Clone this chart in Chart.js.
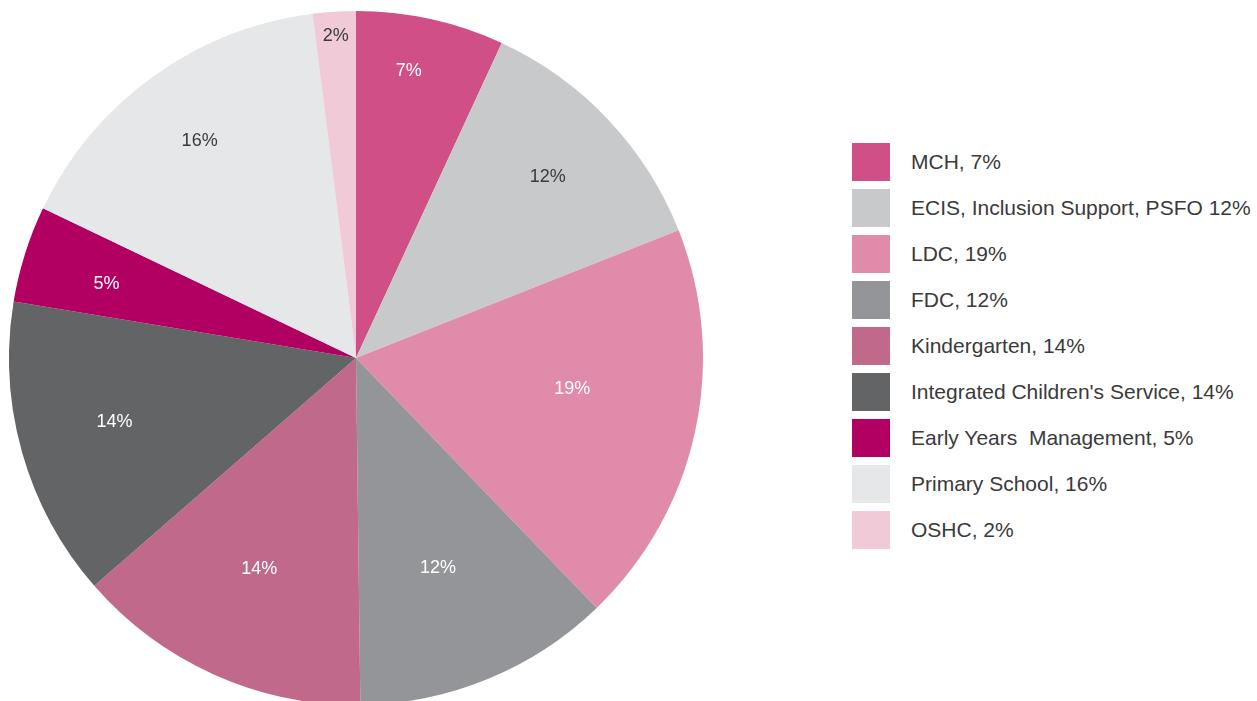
<!DOCTYPE html>
<html>
<head>
<meta charset="utf-8">
<script src="https://cdn.jsdelivr.net/npm/chart.js@4"></script>
<style>
  html, body { margin: 0; padding: 0; background: #fff; overflow: hidden; }
  body { width: 1257px; height: 701px; position: relative; font-family: "Liberation Sans", Arial, sans-serif; }
  #pie_wrap { position: absolute; left: 9px; top: 11px; width: 694px; height: 694px; }
  #legend { position: absolute; left: 852px; top: 143px; margin: 0; padding: 0; list-style: none; }
  #legend li { height: 38px; margin-bottom: 8px; display: flex; align-items: center; }
  #legend .box { width: 38px; height: 38px; margin-right: 21px; flex: none; }
  #legend .txt { font-size: 21px; color: #3a3a3a; white-space: pre; }
</style>
</head>
<body>
<div id="pie_wrap"><canvas id="pie_chart"></canvas></div>
<ul id="legend"></ul>
<script>
var categories = [
  "MCH",
  "ECIS, Inclusion Support, PSFO",
  "LDC",
  "FDC",
  "Kindergarten",
  "Integrated Children's Service",
  "Early Years  Management",
  "Primary School",
  "OSHC",
];
// printed percentages
var percentLabels = [7, 12, 19, 12, 14, 14, 5, 16, 2];
// slice shares
var shares = [6.9, 12.1, 18.8, 12.0, 13.8, 14.0, 4.5, 15.9, 2.0];
var sliceColors = [
  "#cf4f86",
  "#c8c9cb",
  "#df8ba9",
  "#939598",
  "#c0698b",
  "#636466",
  "#b10062",
  "#e6e7e8",
  "#f0cbd7",
];
var darkText = [false, true, false, false, false, false, false, true, true];

// legend built from the same arrays
var legend = document.getElementById("legend");
categories.forEach(function (name, i) {
  var li = document.createElement("li");
  var sep = i == 1 ? " " : ", ";
  li.innerHTML = '<span class="box" style="background:' + sliceColors[i] + '"></span>' +
    '<span class="txt"></span>';
  li.querySelector(".txt").textContent = name + sep + percentLabels[i] + "%";
  legend.appendChild(li);
});

// percentage labels inside slices
var sliceLabels = {
  id: "sliceLabels",
  afterDatasetsDraw: function (chart, args, opts) {
    var ctx = chart.ctx;
    var arcs = chart.getDatasetMeta(0).data;
    ctx.save();
    ctx.font = "18px 'Liberation Sans', Arial, sans-serif";
    ctx.textAlign = "center";
    ctx.textBaseline = "middle";
    arcs.forEach(function (arc, i) {
      var mid = (arc.startAngle + arc.endAngle) / 2 + opts.shift[i] * Math.PI / 180;
      var r = arc.outerRadius * opts.radius[i];
      ctx.fillStyle = darkText[i] ? "#3a3a3a" : "#ffffff";
      ctx.fillText(percentLabels[i] + "%", arc.x + Math.cos(mid) * r, arc.y + Math.sin(mid) * r);
    });
    ctx.restore();
  },
};

var ctx = document.getElementById("pie_chart").getContext("2d");
var myChart = new Chart(ctx, {
  type: "pie",
  data: {
    labels: categories,
    datasets: [
      {
        data: shares,
        backgroundColor: sliceColors,
        borderWidth: 0,
      },
    ],
  },
  options: {
    responsive: true,
    maintainAspectRatio: false,
    animation: false,
    layout: { padding: 0 },
    plugins: {
      legend: { display: false },
      tooltip: { enabled: false },
      sliceLabels: {
        radius: [0.84, 0.76, 0.63, 0.65, 0.67, 0.72, 0.75, 0.77, 0.93],
        shift: [-2, 0, -4, 1, 0.5, 1, -1, 0, 0],
      },
    },
  },
  plugins: [sliceLabels],
});
</script>
</body>
</html>
